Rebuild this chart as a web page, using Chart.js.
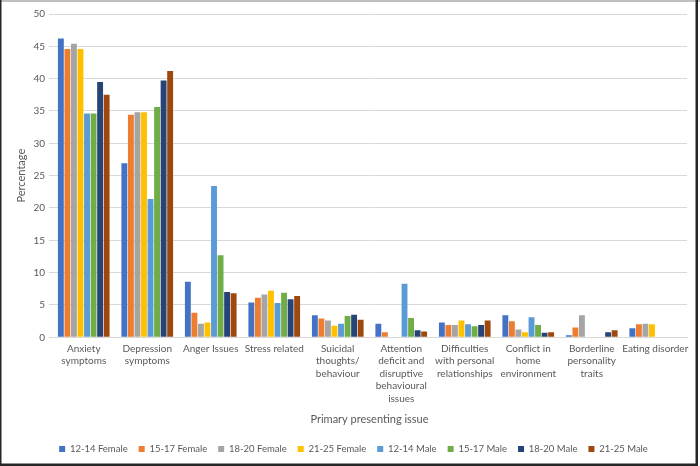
<!DOCTYPE html>
<html>
<head>
<meta charset="utf-8">
<script src="https://cdn.jsdelivr.net/npm/chart.js@4/dist/chart.umd.min.js"></script>
<style>
  html, body { margin: 0; padding: 0; background: #ffffff; }
  #wrap { position: relative; width: 700px; height: 466px; }
  canvas { display: block; }
</style>
</head>
<body>
<div id="wrap"><canvas id="c" width="700" height="466"></canvas></div>
<script>
// ---- data ----
const categories = [
  ["Anxiety", "symptoms"],
  ["Depression", "symptoms"],
  "Anger Issues",
  "Stress related",
  ["Suicidal", "thoughts/", "behaviour"],
  ["Attention", "deficit and", "disruptive", "behavioural", "issues"],
  ["Difficulties", "with personal", "relationships"],
  ["Conflict in", "home", "environment"],
  ["Borderline", "personality", "traits"],
  "Eating disorder"
];
const seriesNames = ["12-14 Female", "15-17 Female", "18-20 Female", "21-25 Female",
                     "12-14 Male", "15-17 Male", "18-20 Male", "21-25 Male"];
const female12_14 = [46.2, 26.9, 8.6, 5.4, 3.4, 2.1, 2.3, 3.4, 0.3, 1.4];
const female15_17 = [44.6, 34.4, 3.8, 6.1, 2.9, 0.8, 1.9, 2.5, 1.5, 2.0];
const female18_20 = [45.4, 34.8, 2.1, 6.6, 2.6, 0, 1.9, 1.2, 3.4, 2.1];
const female21_25 = [44.6, 34.8, 2.3, 7.2, 1.8, 0, 2.6, 0.8, 0, 2.0];
const male12_14 = [34.6, 21.4, 23.4, 5.3, 2.1, 8.3, 2.0, 3.1, 0, 0];
const male15_17 = [34.6, 35.6, 12.7, 6.9, 3.3, 3.0, 1.7, 1.9, 0, 0];
const male18_20 = [39.5, 39.7, 7.0, 5.9, 3.5, 1.1, 1.9, 0.7, 0.8, 0];
const male21_25 = [37.5, 41.2, 6.8, 6.4, 2.7, 0.9, 2.6, 0.8, 1.1, 0];
const yMin = 0, yMax = 50, yStep = 5;
const yTitle = "Percentage";
const xTitle = "Primary presenting issue";

// ---- styles ----
const colors = ["#4472C4", "#ED7D31", "#A5A5A5", "#FFC000", "#5B9BD5", "#70AD47", "#264478", "#9E480E"];
const seriesData = [female12_14, female15_17, female18_20, female21_25, male12_14, male15_17, male18_20, male21_25];
const FONT = "Lato, 'Open Sans', sans-serif";
const textColor = "#595959";

const frame = {
  id: 'frame',
  afterDraw(chart) {
    const ctx = chart.ctx;
    ctx.save();
    ctx.fillStyle = "#bfbfbf";
    ctx.fillRect(0, 0, 700, 2);
    ctx.fillStyle = "#262626";
    ctx.fillRect(0, 0, 1.5, 466);
    ctx.fillRect(695.5, 0, 2.5, 466);
    ctx.fillRect(0, 463.5, 698, 2.5);
    ctx.restore();
  }
};
const whiteBg = {
  id: 'whiteBg',
  beforeDraw(chart) {
    const ctx = chart.ctx;
    ctx.save();
    ctx.fillStyle = "#ffffff";
    ctx.fillRect(0, 0, chart.width, chart.height);
    ctx.restore();
  }
};
// nudge the legend row to the right to match the reference's centring
const legendShift = {
  id: 'legendShift',
  afterLayout(chart) {
    const lg = chart.legend;
    if (lg) { lg.left += 10; lg.right += 10; }
  }
};

new Chart(document.getElementById('c'), {
  type: 'bar',
  data: {
    labels: categories,
    datasets: seriesNames.map((name, i) => ({
      label: name,
      data: seriesData[i],
      backgroundColor: colors[i],
      borderWidth: 0,
      categoryPercentage: 0.824,
      barPercentage: 0.9
    }))
  },
  options: {
    responsive: false,
    animation: false,
    devicePixelRatio: 1,
    layout: { padding: { top: 14, right: 13, bottom: 2.25, left: 0 } },
    plugins: {
      legend: {
        position: 'bottom',
        labels: {
          boxWidth: 6, boxHeight: 6, padding: 11,
          color: textColor,
          font: { family: FONT, size: 9.5 }
        }
      },
      tooltip: { enabled: false }
    },
    scales: {
      x: {
        grid: { display: false, drawTicks: false },
        border: { display: true, color: "#d9d9d9", width: 1 },
        ticks: {
          color: textColor, font: { family: FONT, size: 10, lineHeight: 1.25 },
          padding: 5, autoSkip: false, maxRotation: 0, minRotation: 0
        },
        title: {
          display: true, text: xTitle, color: textColor,
          font: { family: FONT, size: 11 }, padding: { top: 0, bottom: 7.65 }
        },
        afterFit(scale) { scale.height = 95.95; }
      },
      y: {
        min: yMin, max: yMax,
        grid: { color: "#d9d9d9", lineWidth: 1, drawTicks: true, tickLength: 3 },
        border: { display: false },
        ticks: {
          stepSize: yStep, color: textColor, padding: 4,
          font: { family: FONT, size: 10 }
        },
        title: {
          display: true, text: yTitle, color: textColor,
          font: { family: FONT, size: 11 }, padding: { top: 15, bottom: 0 }
        },
        afterFit(scale) { scale.width = 52; }
      }
    }
  },
  plugins: [whiteBg, frame, legendShift]
});
</script>
</body>
</html>
